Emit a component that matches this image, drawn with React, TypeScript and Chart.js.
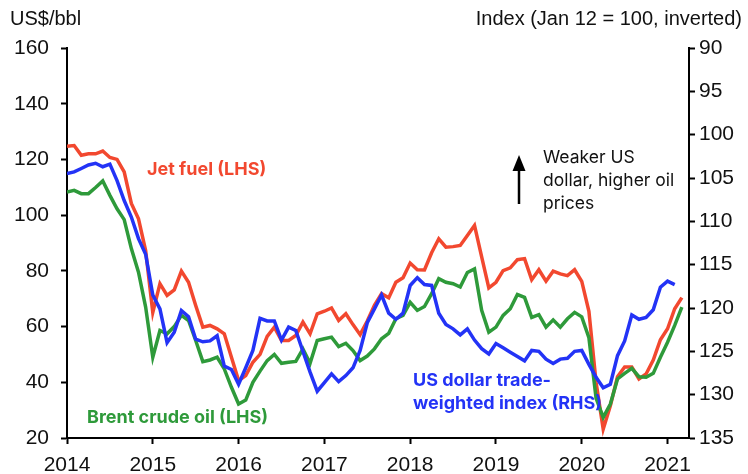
import React, { useEffect, useRef } from "react";
import { Chart, registerables } from "chart.js";

Chart.register(...registerables);

// Monthly data, Jan 2014 onwards
const yearTicks = [2014, 2015, 2016, 2017, 2018, 2019, 2020, 2021];
const leftTicks = [20, 40, 60, 80, 100, 120, 140, 160];
const rightTicks = [90, 95, 100, 105, 110, 115, 120, 125, 130, 135];

const jetFuel = [
  124.7, 125, 121.5, 122, 122, 123, 120.7, 120, 115.5, 104.2, 98.7, 87.3,
  65.1, 75.4, 71.2, 73.2, 79.9, 75.9, 67.6, 59.8, 60.4, 59.2, 57.4, 49,
  40.6, 42.4, 47.2, 50, 56.5, 59.8, 55, 55, 56.8, 61.6, 57.4, 64.6,
  65.5, 66.7, 62.2, 64.6, 60.7, 57.1, 62, 67.6, 71.8, 70.3, 75.9, 77.5,
  82.8, 80.4, 80.3, 86.5, 91.5, 88.5, 88.7, 89.1, 92.7, 96.3, 85, 73.9,
  75.9, 80.1, 81.1, 84, 84.4, 76.8, 80.4, 76.3, 79.9, 78.9, 78.3, 80.4,
  76.2, 65.5, 40, 23.2, 31.6, 42, 45.5, 45.5, 41.2, 43, 48, 55.3,
  59.2, 66.4, 70.4,
];

const brentCrude = [
  108.3, 108.9, 107.7, 107.7, 109.9, 112.3, 107.1, 102.3, 98.4, 88, 79.5, 67,
  49, 58.6, 57.4, 60, 64, 62.2, 55, 47.4, 48, 49, 44.8, 38.2,
  32.2, 33.6, 40, 44, 47.8, 50, 46.8, 47.2, 47.5, 52, 46.8, 55,
  55.6, 56.2, 52.8, 54, 51.4, 47.8, 49.4, 52, 55.6, 57.6, 62.8, 64,
  68.7, 65.8, 67.2, 71.8, 77.2, 75.9, 75.4, 74.2, 79.4, 80.7, 65.8, 58,
  59.8, 64, 66.4, 71.5, 70.5, 63.3, 64.3, 59.8, 62.4, 59.8, 62.8, 65.1,
  63.5, 56, 34.3, 27.4, 32.2, 41.2, 43.2, 45, 42, 41.8, 43.2, 49,
  54.4, 60.4, 67,
];

const usdIndex = [
  104.5, 104.3, 103.9, 103.5, 103.3, 103.7, 103.4, 105.3, 107.6, 109.5, 112, 113.8,
  118.5, 120.1, 124, 122.8, 120.3, 121, 123.6, 123.9, 123.8, 123.2, 126.7, 127.1,
  128.8, 126.9, 124.9, 121.2, 121.5, 121.5, 123.7, 122.2, 122.6, 125, 127.4, 129.6,
  128.6, 127.6, 128.5, 127.8, 126.9, 124.9, 121.7, 120.1, 118.5, 120.6, 121.3, 120.6,
  117.4, 116.5, 117.3, 117.4, 120.6, 121.9, 122.4, 123.1, 122.4, 123.7, 124.7, 125.3,
  124.1, 124.6, 125.1, 125.6, 126.1, 124.9, 125, 125.9, 126.4, 125.9, 125.8, 125,
  124.9, 126.5, 128, 129.2, 128.8, 125.5, 123.8, 120.8, 121.3, 121.1, 120.2, 117.6,
  116.9, 117.3,
];

const RED = "#F2482F";
const GREEN = "#2E9A3A";
const BLUE = "#2333F6";
const TICK_FONT = "'Liberation Sans', Arial, sans-serif";
const LABEL_FONT = "Inter, 'Noto Sans', sans-serif";

const toPoints = (arr: number[]) => arr.map((v, i) => ({ x: i, y: v }));

const overlayPlugin = {
  id: "overlayText",
  afterDraw(chart: any) {
    const ctx = chart.ctx as CanvasRenderingContext2D;
    ctx.save();
    ctx.textBaseline = "middle";
    ctx.fillStyle = "#111";
    ctx.font = `20px ${TICK_FONT}`;
    ctx.textAlign = "left";
    ctx.fillText("US$/bbl", 10, 19);
    ctx.textAlign = "right";
    ctx.fillText("Index (Jan 12 = 100, inverted)", 742, 19);

    ctx.textAlign = "left";
    ctx.font = `700 18px ${LABEL_FONT}`;
    ctx.fillStyle = RED;
    ctx.fillText("Jet fuel (LHS)", 147, 170);
    ctx.fillStyle = GREEN;
    ctx.fillText("Brent crude oil (LHS)", 87, 418);
    ctx.fillStyle = BLUE;
    ctx.fillText("US dollar trade-", 413, 381);
    ctx.fillText("weighted index (RHS)", 413, 404);

    ctx.fillStyle = "#111";
    ctx.font = `17.5px ${LABEL_FONT}`;
    ctx.fillText("Weaker US", 543, 158);
    ctx.fillText("dollar, higher oil", 543, 181);
    ctx.fillText("prices", 543, 204);

    // arrow
    ctx.strokeStyle = "#000";
    ctx.lineWidth = 2.5;
    ctx.beginPath();
    ctx.moveTo(519, 204);
    ctx.lineTo(519, 168);
    ctx.stroke();
    ctx.fillStyle = "#000";
    ctx.beginPath();
    ctx.moveTo(519, 155);
    ctx.lineTo(512.5, 171);
    ctx.lineTo(525.5, 171);
    ctx.closePath();
    ctx.fill();
    ctx.restore();
  },
};

export default function App() {
  const canvasRef = useRef<HTMLCanvasElement | null>(null);

  useEffect(() => {
    const canvas = canvasRef.current;
    if (!canvas) return;
    const chart = new Chart(canvas, {
      type: "line",
      data: {
        datasets: [
          {
            label: "US dollar trade-weighted index (RHS)",
            data: toPoints(usdIndex),
            borderColor: BLUE,
            borderWidth: 3.5,
            pointRadius: 0,
            tension: 0,
            yAxisID: "yRight",
            order: 0,
          },
          {
            label: "Brent crude oil (LHS)",
            data: toPoints(brentCrude),
            borderColor: GREEN,
            borderWidth: 3.5,
            pointRadius: 0,
            tension: 0,
            yAxisID: "yLeft",
            order: 1,
          },
          {
            label: "Jet fuel (LHS)",
            data: toPoints(jetFuel),
            borderColor: RED,
            borderWidth: 3.5,
            pointRadius: 0,
            tension: 0,
            yAxisID: "yLeft",
            order: 2,
          },
        ],
      },
      options: {
        responsive: false,
        animation: false,
        events: [],
        layout: { padding: { top: 48, left: 0, right: 0, bottom: 0 } },
        plugins: {
          legend: { display: false },
          tooltip: { enabled: false },
          title: { display: false },
        },
        scales: {
          x: {
            type: "linear",
            min: 0,
            max: 87,
            afterBuildTicks: (scale: any) => {
              scale.ticks = yearTicks.map((y) => ({ value: (y - 2014) * 12 }));
            },
            afterFit: (scale: any) => {
              scale.height = 36;
            },
            ticks: {
              autoSkip: false,
              maxRotation: 0,
              padding: 9,
              color: "#111",
              font: { family: TICK_FONT, size: 21 },
              callback: (v: any) => String(2014 + Math.round(Number(v) / 12)),
            },
            grid: {
              drawOnChartArea: false,
              drawTicks: true,
              tickLength: 6,
              tickWidth: 2,
              tickColor: "#000",
            },
            border: { display: true, color: "#000", width: 2 },
          },
          yLeft: {
            type: "linear",
            position: "left",
            min: 20,
            max: 160,
            afterBuildTicks: (scale: any) => {
              scale.ticks = leftTicks.map((v) => ({ value: v }));
            },
            afterFit: (scale: any) => {
              scale.width = 67;
            },
            ticks: {
              padding: 12,
              color: "#111",
              font: { family: TICK_FONT, size: 21 },
            },
            grid: {
              drawOnChartArea: false,
              drawTicks: true,
              tickLength: 6,
              tickWidth: 2,
              tickColor: "#000",
            },
            border: { display: true, color: "#000", width: 2 },
          },
          yRight: {
            type: "linear",
            position: "right",
            reverse: true,
            min: 90,
            max: 135,
            afterBuildTicks: (scale: any) => {
              scale.ticks = rightTicks.map((v) => ({ value: v }));
            },
            afterFit: (scale: any) => {
              scale.width = 59;
            },
            ticks: {
              padding: 4,
              color: "#111",
              font: { family: TICK_FONT, size: 21 },
            },
            grid: {
              drawOnChartArea: false,
              drawTicks: true,
              tickLength: 6,
              tickWidth: 2,
              tickColor: "#000",
            },
            border: { display: true, color: "#000", width: 2 },
          },
        },
      },
      plugins: [overlayPlugin],
    });
    return () => chart.destroy();
  }, []);

  return (
    <div
      style={{
        position: "fixed",
        left: 0,
        top: 0,
        width: 748,
        height: 474,
        background: "#fff",
      }}
    >
      <canvas ref={canvasRef} width={748} height={474} />
    </div>
  );
}
